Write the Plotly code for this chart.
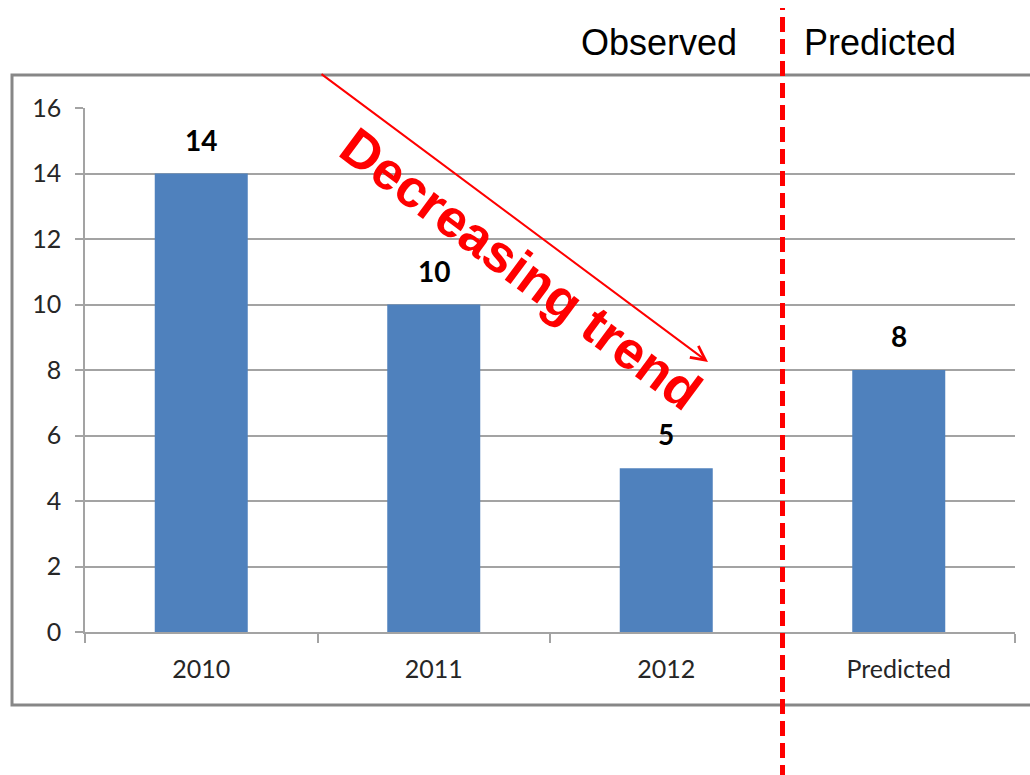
import plotly.graph_objects as go

# Yearly counts: three observed years and one forecast
categories = ["2010", "2011", "2012", "Predicted"]
values = [14, 10, 5, 8]
y_ticks = [0, 2, 4, 6, 8, 10, 12, 14, 16]

W, H = 1030, 775
ML, MR, MT, MB = 85, 15, 108, 143
PW, PH = W - ML - MR, H - MT - MB


def px_x(p):
    """Convert a horizontal pixel position to paper coordinates."""
    return (p - ML) / PW


def px_y(p):
    """Convert a vertical pixel position to paper coordinates."""
    return (H - MB - p) / PH


GRID = "#a3a3a3"
AXIS_FONT = dict(family="Lato, Carlito, sans-serif", size=25, color="#262626")

fig = go.Figure(
    go.Bar(
        x=categories,
        y=values,
        marker=dict(color="#4F81BD", line=dict(width=0)),
        width=0.4,
        hoverinfo="skip",
    )
)

# Value labels above each bar (category axis positions by index)
annotations = [
    dict(
        x=i, y=v, xref="x", yref="y", text=f"<b>{v}</b>", showarrow=False,
        xanchor="center", yanchor="bottom", yshift=15,
        font=dict(family="Lato, sans-serif", size=28, color="#000000"),
    )
    for i, v in enumerate(values)
]

# Section headings either side of the divider
annotations += [
    dict(x=px_x(739), y=px_y(42), xref="paper", yref="paper", text="Observed",
         showarrow=False, xanchor="right", yanchor="middle",
         font=dict(family="Liberation Sans, Arial, sans-serif", size=36, color="#000000")),
    dict(x=px_x(802), y=px_y(42), xref="paper", yref="paper", text="Predicted",
         showarrow=False, xanchor="left", yanchor="middle",
         font=dict(family="Liberation Sans, Arial, sans-serif", size=36, color="#000000")),
]

# Trend arrow and its rotated caption
annotations += [
    dict(x=px_x(708), y=px_y(362), xref="paper", yref="paper",
         ax=320 - 708, ay=73 - 362, axref="pixel", ayref="pixel",
         showarrow=True, arrowhead=5, arrowsize=1.4, arrowwidth=2,
         arrowcolor="#ff0000", text=""),
    dict(x=px_x(521), y=px_y(268), xref="paper", yref="paper",
         xanchor="center", yanchor="middle",
         text="<b>Decreasing trend</b>", showarrow=False, textangle=36.6,
         font=dict(family="Liberation Sans, Arial, sans-serif", size=53, color="#ff0000")),
]

shapes = [
    # outer chart frame
    dict(type="rect", xref="paper", yref="paper",
         x0=px_x(12), x1=px_x(1060), y0=px_y(705), y1=px_y(75),
         line=dict(color="#878787", width=3), layer="below"),
    # observed / predicted divider
    dict(type="line", xref="x", yref="paper", x0=2.5, x1=2.5,
         y0=px_y(780), y1=px_y(8),
         line=dict(color="#ff0000", width=5, dash="15px,7px")),
]

fig.update_layout(
    width=W, height=H,
    margin=dict(l=ML, r=MR, t=MT, b=MB, pad=0),
    paper_bgcolor="#ffffff", plot_bgcolor="#ffffff",
    showlegend=False,
    bargap=0.6,
    annotations=annotations,
    shapes=shapes,
)

fig.update_xaxes(
    type="category",
    showgrid=False,
    showline=True, linecolor=GRID, linewidth=1.5,
    ticks="outside", tickson="boundaries", ticklen=9, tickcolor=GRID, tickwidth=1.5,
    tickfont=AXIS_FONT,
    ticklabelstandoff=14,
    range=[-0.5, 3.5],
    fixedrange=True,
)

fig.update_yaxes(
    range=[0, 16],
    tickvals=y_ticks,
    showgrid=True, gridcolor=GRID, gridwidth=1.5,
    showline=True, linecolor=GRID, linewidth=1.5,
    ticks="outside", ticklen=8, tickcolor=GRID, tickwidth=1.5,
    tickfont=AXIS_FONT,
    ticklabelstandoff=9,
    zeroline=False,
    fixedrange=True,
)

fig.write_html("out.html")
